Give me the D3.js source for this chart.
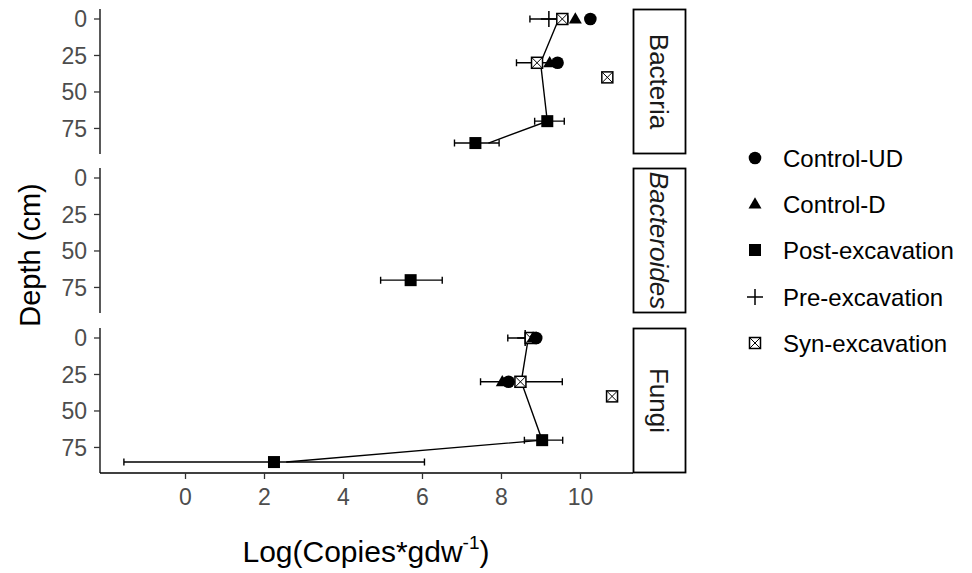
<!DOCTYPE html>
<html><head><meta charset="utf-8">
<script src="https://cdn.jsdelivr.net/npm/d3@7"></script>
<style>body{margin:0;background:#fff}svg{display:block;font-family:Arial,"Liberation Sans",sans-serif}</style>
</head><body><svg id="c" width="972" height="573"></svg>
<script>
// ---- data ----
const facets = ["Bacteria", "Bacteroides", "Fungi"];
const treatments = ["Control-UD", "Control-D", "Post-excavation", "Pre-excavation", "Syn-excavation"];
const xTicks = [0, 2, 4, 6, 8, 10];
const yTicks = [0, 25, 50, 75];
// [treatment, depth, value, lower, upper]
const bacteriaPoints = [
  ["Pre-excavation", 0, 9.20, 8.72, 9.68],
  ["Syn-excavation", 0, 9.54],
  ["Control-D", 0, 9.87],
  ["Control-UD", 0, 10.25],
  ["Syn-excavation", 30, 8.90, 8.38, 9.42],
  ["Control-D", 30, 9.22],
  ["Control-UD", 30, 9.42],
  ["Syn-excavation", 40, 10.68],
  ["Post-excavation", 70, 9.16, 8.84, 9.59],
  ["Post-excavation", 85, 7.34, 6.81, 7.94]
];
const bacteroidesPoints = [
  ["Post-excavation", 70, 5.70, 4.94, 6.50]
];
const fungiPoints = [
  ["Pre-excavation", 0, 8.60, 8.16, 8.98],
  ["Syn-excavation", 0, 8.74],
  ["Control-D", 0, 8.80],
  ["Control-UD", 0, 8.88],
  ["Syn-excavation", 30, 8.48, 7.47, 9.54],
  ["Control-D", 30, 8.02],
  ["Control-UD", 30, 8.18],
  ["Syn-excavation", 40, 10.80],
  ["Post-excavation", 70, 9.03, 8.58, 9.55],
  ["Post-excavation", 85, 2.24, -1.56, 6.05]
];
// [value, depth]
const bacteriaLine = [[9.45, 0], [8.99, 30], [9.16, 70], [7.67, 85]];
const bacteroidesLine = [];
const fungiLine = [[8.68, 0], [8.50, 30], [9.03, 70], [2.55, 85]];

const facetPoints = [bacteriaPoints, bacteroidesPoints, fungiPoints];
const facetLines = [bacteriaLine, bacteroidesLine, fungiLine];

// ---- layout ----
const svg = d3.select("#c");
const left = 100, right = 633, stripW = 52;
const panelTops = [9, 168, 328], panelH = 145;
const x = d3.scaleLinear().domain([-2.165, 11.33]).range([left, right]);

function shape(g, t, cx, cy) {
  if (t === "Control-UD") {
    g.append("circle").attr("cx", cx).attr("cy", cy).attr("r", 6.3).attr("fill", "#000");
  } else if (t === "Control-D") {
    const s = 13, h = s * 0.866;
    g.append("path").attr("d", `M${cx},${cy - h * 0.6}L${cx + s / 2},${cy + h * 0.4}L${cx - s / 2},${cy + h * 0.4}Z`).attr("fill", "#000");
  } else if (t === "Post-excavation") {
    g.append("rect").attr("x", cx - 6).attr("y", cy - 6).attr("width", 12).attr("height", 12).attr("fill", "#000");
  } else if (t === "Pre-excavation") {
    g.append("path").attr("d", `M${cx - 8},${cy}H${cx + 8}M${cx},${cy - 8}V${cy + 8}`).attr("stroke", "#000").attr("stroke-width", 1.5).attr("fill", "none");
  } else {
    const a = 5.5;
    g.append("rect").attr("x", cx - a).attr("y", cy - a).attr("width", 2 * a).attr("height", 2 * a)
      .attr("fill", "#fff").attr("stroke", "#000").attr("stroke-width", 1.5);
    g.append("path").attr("d", `M${cx - a},${cy - a}L${cx + a},${cy + a}M${cx + a},${cy - a}L${cx - a},${cy + a}`)
      .attr("stroke", "#000").attr("stroke-width", 1);
  }
}

facets.forEach((f, i) => {
  const top = panelTops[i];
  const y = d3.scaleLinear().domain([-6.85, 92.5]).range([top, top + panelH]);
  const g = svg.append("g");
  // y axis
  g.append("line").attr("x1", left).attr("x2", left).attr("y1", top).attr("y2", top + panelH).attr("stroke", "#000").attr("stroke-width", 1.3);
  yTicks.forEach(t => {
    g.append("line").attr("x1", left - 6).attr("x2", left).attr("y1", y(t)).attr("y2", y(t)).attr("stroke", "#333").attr("stroke-width", 1.3);
    g.append("text").attr("x", left - 13).attr("y", y(t)).attr("dy", "0.36em").attr("text-anchor", "end")
      .attr("font-size", 23).attr("fill", "#4d4d4d").text(t);
  });
  // strip
  g.append("rect").attr("x", right + 0.5).attr("y", top + 0.5).attr("width", stripW).attr("height", panelH - 1)
    .attr("fill", "#fff").attr("stroke", "#000").attr("stroke-width", 1.8);
  g.append("text").attr("transform", `translate(${right + stripW / 2},${top + panelH / 2}) rotate(90)`)
    .attr("text-anchor", "middle").attr("dy", "0.36em").attr("font-size", 26).attr("fill", "#1a1a1a")
    .attr("font-style", f === "Bacteroides" ? "italic" : "normal").text(f);
  // error bars
  facetPoints[i].filter(d => d.length > 3).forEach(d => {
    const cy = y(d[1]);
    g.append("path").attr("d", `M${x(d[3])},${cy}H${x(d[4])}M${x(d[3])},${cy - 3.5}V${cy + 3.5}M${x(d[4])},${cy - 3.5}V${cy + 3.5}`)
      .attr("stroke", "#000").attr("stroke-width", 1.4).attr("fill", "none");
  });
  // line
  if (facetLines[i].length) {
    g.append("path").datum(facetLines[i])
      .attr("d", d3.line().x(d => x(d[0])).y(d => y(d[1])))
      .attr("stroke", "#000").attr("stroke-width", 1.4).attr("fill", "none");
  }
  // points
  facetPoints[i].forEach(d => shape(g, d[0], x(d[2]), y(d[1])));
  // x axis on last panel
  if (i === facets.length - 1) {
    const yb = top + panelH;
    g.append("line").attr("x1", left).attr("x2", right).attr("y1", yb).attr("y2", yb).attr("stroke", "#000").attr("stroke-width", 1.3);
    xTicks.forEach(t => {
      g.append("line").attr("x1", x(t)).attr("x2", x(t)).attr("y1", yb).attr("y2", yb + 6).attr("stroke", "#333").attr("stroke-width", 1.3);
      g.append("text").attr("x", x(t)).attr("y", yb + 32).attr("text-anchor", "middle")
        .attr("font-size", 23).attr("fill", "#4d4d4d").text(t);
    });
  }
});

// axis titles
const xt = svg.append("text").attr("x", 366).attr("y", 562).attr("text-anchor", "middle").attr("font-size", 30).attr("fill", "#000");
xt.append("tspan").text("Log(Copies*gdw");
xt.append("tspan").attr("font-size", 19).attr("dy", -13).text("-1");
xt.append("tspan").attr("dy", 13).text(")");
svg.append("text").attr("transform", "translate(40,255) rotate(-90)").attr("text-anchor", "middle")
  .attr("font-size", 29).attr("fill", "#000").text("Depth (cm)");

// legend
const legendY = [158, 204, 250, 297, 343];
treatments.forEach((t, j) => {
  const lg = svg.append("g");
  shape(lg, t, 755, legendY[j]);
  lg.append("text").attr("x", 783).attr("y", legendY[j]).attr("dy", "0.36em").attr("font-size", 24).attr("fill", "#000").text(t);
});
</script></body></html>
